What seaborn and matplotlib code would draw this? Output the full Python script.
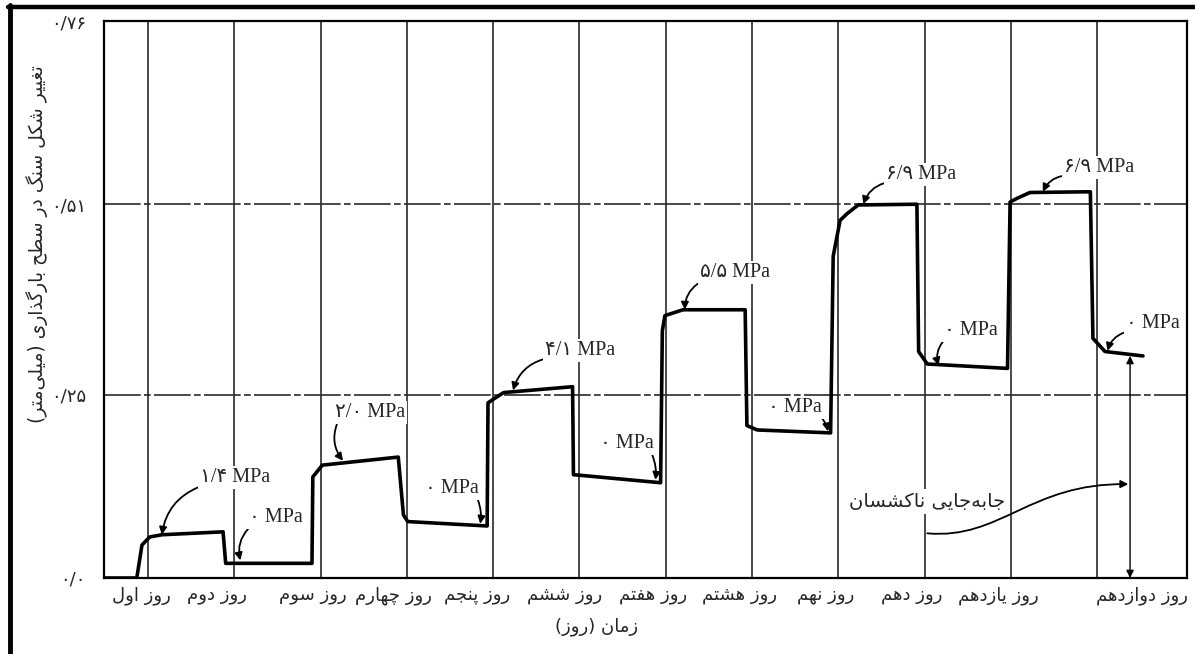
import matplotlib
matplotlib.use("Agg")
import matplotlib.pyplot as plt
import seaborn as sns
import pandas as pd
from matplotlib.path import Path
from matplotlib.patches import FancyArrowPatch
from matplotlib.lines import Line2D

# ---------------- data ----------------
time_days = [0.49, 0.87, 0.93, 1.02, 1.16, 1.87, 1.90, 2.90, 2.91, 3.02, 3.90, 3.96,
             4.01, 4.93, 4.94, 4.99, 5.12, 5.92, 5.93, 6.94, 6.96, 6.99, 7.20, 7.92,
             7.94, 8.06, 8.91, 8.94, 9.02, 9.10, 9.23, 9.91, 9.93, 10.03, 10.96, 10.99,
             11.07, 11.22, 11.92, 11.95, 12.09, 12.53]
displacement_mm = [0.0, 0.0, 0.045, 0.056, 0.059, 0.063, 0.020, 0.020, 0.138, 0.154,
                   0.165, 0.086, 0.077, 0.071, 0.239, 0.243, 0.253, 0.261, 0.141, 0.130,
                   0.337, 0.358, 0.366, 0.366, 0.208, 0.202, 0.198, 0.439, 0.488, 0.497,
                   0.509, 0.510, 0.309, 0.292, 0.286, 0.513, 0.518, 0.526, 0.527, 0.327,
                   0.309, 0.303]

day_positions = [1, 2, 3, 4, 5, 6, 7, 8, 9, 10, 11, 12]
day_labels = ['روز اول', 'روز دوم', 'روز سوم', 'روز چهارم', 'روز پنجم', 'روز ششم',
              'روز هفتم', 'روز هشتم', 'روز نهم', 'روز دهم', 'روز یازدهم', 'روز دوازدهم']

y_ticks = [0.0, 0.25, 0.51, 0.76]
y_tick_labels = ['۰/۰', '۰/۲۵', '۰/۵۱', '۰/۷۶']

stress_labels = ['۱/۴ MPa', '۰ MPa', '۲/۰ MPa', '۰ MPa', '۴/۱ MPa', '۰ MPa',
                 '۵/۵ MPa', '۰ MPa', '۶/۹ MPa', '۰ MPa', '۶/۹ MPa', '۰ MPa']
stress_tip_day = [1.16, 2.07, 3.26, 4.85, 5.23, 6.88, 7.22, 8.88, 9.29, 10.16, 11.37, 12.12]
stress_tip_value = [0.059, 0.024, 0.160, 0.074, 0.256, 0.134, 0.366, 0.200, 0.510,
                    0.290, 0.527, 0.310]

permanent_day = 12.38
permanent_value = 0.303

y_title = 'تغییر شکل سنگ در سطح بارگذاری (میلی\u200cمتر)'
x_title = 'زمان (روز)'
permanent_label = 'جابه\u200cجایی ناکشسان'

# ---------------- layout (not data) ----------------
label_shift_days = [-0.08, -0.20, -0.09, -0.15, -0.19, -0.17, -0.15, -0.15, -0.15,
                    -0.15, -0.15, 0.52]
text_offsets_px = [(73, 57), (36, 43), (27, 48), (-28, 35), (67, 40), (-29, 36),
                   (50, 37), (-33, 24), (58, 30), (32, 35), (56, 24), (45, 27)]

# ---------------- minimal Persian shaping ----------------
FORMS = {
    'ا': ('\uFE8D', '\uFE8E', None, None),
    'د': ('\uFEA9', '\uFEAA', None, None),
    'ذ': ('\uFEAB', '\uFEAC', None, None),
    'ر': ('\uFEAD', '\uFEAE', None, None),
    'ز': ('\uFEAF', '\uFEB0', None, None),
    'و': ('\uFEED', '\uFEEE', None, None),
    'ب': ('\uFE8F', '\uFE90', '\uFE91', '\uFE92'),
    'پ': ('\uFB56', '\uFB57', '\uFB58', '\uFB59'),
    'ت': ('\uFE95', '\uFE96', '\uFE97', '\uFE98'),
    'ج': ('\uFE9D', '\uFE9E', '\uFE9F', '\uFEA0'),
    'چ': ('\uFB7A', '\uFB7B', '\uFB7C', '\uFB7D'),
    'ح': ('\uFEA1', '\uFEA2', '\uFEA3', '\uFEA4'),
    'س': ('\uFEB1', '\uFEB2', '\uFEB3', '\uFEB4'),
    'ش': ('\uFEB5', '\uFEB6', '\uFEB7', '\uFEB8'),
    'ط': ('\uFEC1', '\uFEC2', '\uFEC3', '\uFEC4'),
    'غ': ('\uFECD', '\uFECE', '\uFECF', '\uFED0'),
    'ف': ('\uFED1', '\uFED2', '\uFED3', '\uFED4'),
    'ک': ('\uFB8E', '\uFB8F', '\uFB90', '\uFB91'),
    'گ': ('\uFB92', '\uFB93', '\uFB94', '\uFB95'),
    'ل': ('\uFEDD', '\uFEDE', '\uFEDF', '\uFEE0'),
    'م': ('\uFEE1', '\uFEE2', '\uFEE3', '\uFEE4'),
    'ن': ('\uFEE5', '\uFEE6', '\uFEE7', '\uFEE8'),
    'ه': ('\uFEE9', '\uFEEA', '\uFEEB', '\uFEEC'),
    'ی': ('\uFBFC', '\uFBFD', '\uFBFE', '\uFBFF'),
}


def fa(text):
    chars = list(text)
    out = []
    for i, c in enumerate(chars):
        if c == '\u200c':
            continue
        if c not in FORMS:
            out.append(c)
            continue
        prev = chars[i - 1] if i > 0 else None
        nxt = chars[i + 1] if i + 1 < len(chars) else None
        conn_prev = prev in FORMS and FORMS[prev][2] is not None
        conn_next = nxt in FORMS and FORMS[c][2] is not None
        iso, fin, ini, med = FORMS[c]
        if conn_prev and conn_next:
            out.append(med)
        elif conn_prev:
            out.append(fin)
        elif conn_next:
            out.append(ini)
        else:
            out.append(iso)
    mirror = {'(': ')', ')': '('}
    return ''.join(mirror.get(c, c) for c in reversed(out))


# ---------------- plot ----------------
sns.set_theme(style='white')
plt.rcParams['font.family'] = ['DejaVu Sans']

fig = plt.figure(figsize=(11.95, 6.54), dpi=100)
ax = fig.add_axes([104 / 1195, 76 / 654, 1083 / 1195, 557 / 654])

df = pd.DataFrame({'day': time_days, 'disp': displacement_mm})
sns.lineplot(data=df, x='day', y='disp', sort=False, estimator=None, ax=ax,
             color='black', lw=2.6, zorder=4)

ax.set_xlim(0.49, 13.04)
ax.set_ylim(0, 0.76)

# grid lines
for d in day_positions:
    ax.axvline(d, color='#2a2a2a', lw=1.2, zorder=1)
for yv in y_ticks[1:3]:
    ax.axhline(yv, color='#2a2a2a', lw=1.2, zorder=1, dashes=(22, 2, 4, 2))

for s in ax.spines.values():
    s.set_color('black')
    s.set_linewidth(1.6)

ax.set_yticks(y_ticks)
ax.set_yticklabels(y_tick_labels, fontsize=13)
ax.tick_params(axis='y', length=0, pad=13)

ax.set_xticks([d + s for d, s in zip(day_positions, label_shift_days)])
ax.set_xticklabels([fa(t) for t in day_labels], fontsize=13)
ax.tick_params(axis='x', length=0, pad=6)

ax.set_xlabel('')
ax.set_ylabel(fa(y_title), fontsize=13.5)
ax.yaxis.set_label_coords(-0.052, 0.60)
fig.text(597 / 1195, 1 - 627 / 654, fa(x_title), fontsize=13, ha='center', va='center')

# stress annotations
for lab, xd, yd, (dx, dy) in zip(stress_labels, stress_tip_day, stress_tip_value,
                                 text_offsets_px):
    relpos = (0.05, 0.1) if dx > 0 else (0.95, 0.1)
    rad = 0.3 if dx > 0 else -0.15
    ax.annotate(lab, xy=(xd, yd), xytext=(dx, dy), textcoords='offset pixels',
                ha='center', va='center', fontsize=14.5,
                family=['Liberation Serif', 'DejaVu Sans'], zorder=6,
                bbox=dict(boxstyle='square,pad=0.1', fc='white', ec='none'),
                arrowprops=dict(arrowstyle='-|>', color='black', lw=1.3,
                                mutation_scale=11, shrinkA=0, shrinkB=0,
                                relpos=relpos,
                                connectionstyle=f'arc3,rad={rad}'))

# permanent (inelastic) displacement arrow
ax.annotate('', xy=(permanent_day, 0.0), xytext=(permanent_day, permanent_value),
            arrowprops=dict(arrowstyle='<|-|>', color='black', lw=1.0,
                            mutation_scale=11, shrinkA=0, shrinkB=0), zorder=5)
ax.text(10.03, 0.104, fa(permanent_label), fontsize=14, ha='center', va='center',
        zorder=6, bbox=dict(boxstyle='square,pad=0.15', fc='white', ec='none'))
curve_path = Path([(10.03, 0.061), (10.88, 0.052), (11.22, 0.130), (permanent_day - 0.02, 0.128)],
                  [Path.MOVETO, Path.CURVE4, Path.CURVE4, Path.CURVE4])
ax.add_patch(FancyArrowPatch(path=curve_path, arrowstyle='-|>', mutation_scale=11,
                             color='black', lw=1.3, zorder=6))

# outer frame of the image (top and left)
fig.add_artist(Line2D([8 / 1195, 1], [1 - 6.5 / 654, 1 - 6.5 / 654],
                      transform=fig.transFigure, color='black', lw=3.2))
fig.add_artist(Line2D([10 / 1195, 10 / 1195], [0, 1 - 5 / 654],
                      transform=fig.transFigure, color='black', lw=3.5))

fig.savefig('out.png', dpi=100)
